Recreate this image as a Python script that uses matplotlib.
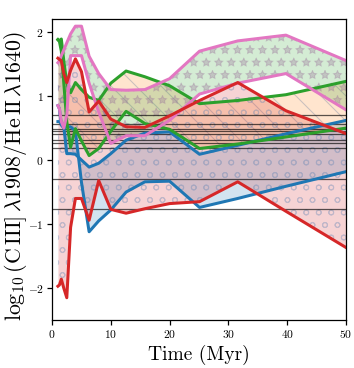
import numpy as np
import matplotlib
matplotlib.use("Agg")
import matplotlib.pyplot as plt

plt.rcParams['font.family'] = 'serif'
plt.rcParams['font.serif'] = ['cmr10']
plt.rcParams['mathtext.fontset'] = 'cm'
plt.rcParams['axes.formatter.use_mathtext'] = True
plt.rcParams['axes.unicode_minus'] = True
plt.rcParams['hatch.linewidth'] = 1.0

# model ages (Myr), log-spaced grid
age = [1.0, 1.26, 1.58, 2.0, 2.51, 3.16, 3.98, 5.01, 6.31, 7.94,
       10.0, 12.6, 15.8, 20.0, 25.1, 31.6, 39.8, 50.1]

blue_hi = [0.60, 0.60, 0.57, 0.52, 0.10, 0.10, 0.09, 0.00, -0.11, -0.05,
           0.10, 0.31, 0.42, 0.44, 0.09, 0.23, 0.41, 0.62]
blue_lo = [0.85, 0.80, 0.55, 0.50, 0.52, 0.52, 0.45, -0.35, -1.12, -0.95,
           -0.78, -0.50, -0.34, -0.33, -0.74, -0.60, -0.41, -0.18]

green_hi = [1.88, 1.86, 1.89, 1.55, 1.20, 1.05, 1.21, 1.10, 0.98, 0.93,
            1.20, 1.39, 1.30, 1.16, 0.88, 0.93, 1.02, 1.23]
green_lo = [1.88, 1.85, 1.70, 1.20, 0.60, 0.20, 0.49, 0.30, 0.07, 0.18,
            0.45, 0.76, 0.57, 0.48, 0.18, 0.25, 0.36, 0.50]

pink_hi = [1.52, 1.55, 1.63, 1.72, 1.83, 1.97, 2.09, 2.09, 1.62, 1.35,
           1.10, 1.09, 1.10, 1.27, 1.70, 1.86, 1.95, 1.55]
pink_lo = [0.85, 0.80, 0.60, 0.50, 0.70, 1.63, 1.63, 1.63, 1.20, 0.75,
           0.26, 0.38, 0.38, 0.62, 1.03, 1.20, 1.35, 0.78]

red_hi = [1.59, 1.57, 1.55, 1.35, 1.21, 1.40, 1.58, 1.38, 0.75, 0.92,
          0.64, 0.52, 0.51, 0.69, 0.93, 1.21, 0.77, 0.41]
red_lo = [-1.97, -1.95, -1.86, -2.00, -2.15, -1.05, -0.60, -0.60, -0.94, -0.32,
          -0.77, -0.83, -0.76, -0.68, -0.65, -0.34, -0.80, -1.37]

# observed ratios
obs = [0.71, 0.57, 0.49, 0.45, 0.40, 0.32, 0.27, 0.19, -0.30, -0.76]

models = [
    (blue_hi, blue_lo, 'C0', 'C0', ''),
    (green_hi, green_lo, 'C2', 'C1', '\\'),
    (pink_hi, pink_lo, 'C6', 'C2', '*'),
    (red_hi, red_lo, 'C3', 'C3', 'o'),
]
hatch_col = {'\\': (0.35, 0.45, 0.6, 0.32),
             '*': (0.6, 0.45, 0.6, 0.32), 'o': (0.35, 0.5, 0.7, 0.3)}

# drawn at dpi 75 so the hatch pattern comes out at the right density
fig, ax = plt.subplots(figsize=(354 / 75, 368 / 75), dpi=75)
fig.subplots_adjust(left=0.147, right=0.977, top=0.948, bottom=0.130)

for hi, lo, lc, fc, h in models:
    ax.fill_between(age, lo, hi, color=fc, alpha=0.2, linewidth=0)
    if h:
        ax.fill_between(age, lo, hi, facecolor='none', edgecolor=hatch_col[h],
                        linewidth=0, hatch=h)

for y in obs:
    ax.axhline(y, color='k', lw=1.2, alpha=0.65)

for hi, lo, lc, fc, h in models:
    ax.plot(age, hi, color=lc, lw=2.9)
    ax.plot(age, lo, color=lc, lw=2.9)

ax.set_xlim(0, 50)
ax.set_ylim(-2.5, 2.2)
ax.set_xticks([0, 10, 20, 30, 40, 50])
ax.set_yticks([-2, -1, 0, 1, 2])
ax.tick_params(labelsize=11, width=1.2, length=4.5)
for s in ax.spines.values():
    s.set_linewidth(1.2)
ax.set_xlabel('Time (Myr)', fontsize=18.7)
ax.set_ylabel(r'$\log_{10}(\mathrm{C\,III]\,\lambda 1908/He\,II\,\lambda 1640})$',
              fontsize=21)
ax.yaxis.set_label_coords(-0.08, 0.48)

fig.savefig('out.png', dpi=75)
